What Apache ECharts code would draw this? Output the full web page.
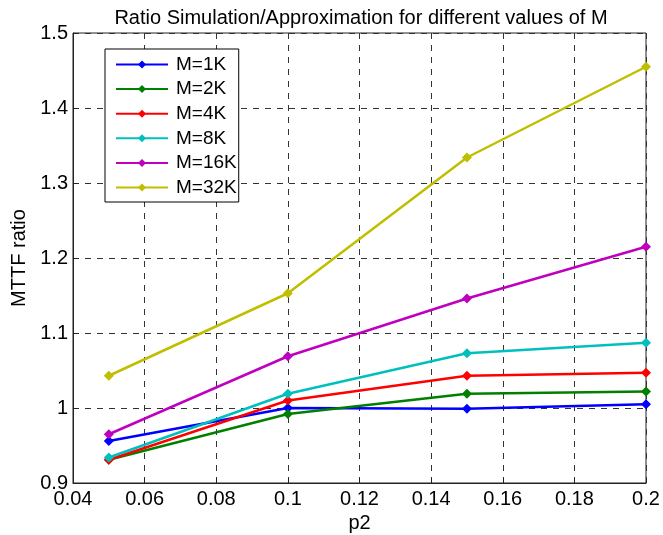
<!DOCTYPE html>
<html>
<head>
<meta charset="utf-8">
<script src="https://cdn.jsdelivr.net/npm/echarts@6/dist/echarts.min.js"></script>
<style>
  html, body { margin: 0; padding: 0; background: #fff; }
  #main { width: 663px; height: 535px; }
</style>
</head>
<body>
<div id="main"></div>
<script>
// p2 values
var p2 = [0.05, 0.1, 0.15, 0.2]
// MTTF ratio for each M
var m1k = [0.956, 1.0, 0.999, 1.005]
var m2k = [0.931, 0.992, 1.019, 1.022]
var m4k = [0.931, 1.010, 1.043, 1.047]
var m8k = [0.934, 1.019, 1.073, 1.087]
var m16k = [0.965, 1.069, 1.146, 1.215]
var m32k = [1.043, 1.153, 1.334, 1.455]
var names = ['M=1K', 'M=2K', 'M=4K', 'M=8K', 'M=16K', 'M=32K']
var colors = ['#0000ff', '#008000', '#ff0000', '#00bfbf', '#bf00bf', '#bfbf00']

var chart = echarts.init(document.getElementById('main'))
var font = 'Liberation Sans, Arial, sans-serif'

function makeSeries(name, vals, color) {
  return {
    name: name,
    type: 'line',
    data: p2.map(function (x, i) { return [x, vals[i]] }),
    symbol: 'diamond',
    symbolSize: 10,
    lineStyle: { color: color, width: 2.5 },
    itemStyle: { color: color },
    animation: false
  }
}

function fmt(v) {
  return String(parseFloat(v.toFixed(2)))
}

var option = {
  backgroundColor: '#fff',
  title: {
    text: 'Ratio Simulation/Approximation for different values of M',
    left: 356,
    textAlign: 'center',
    top: 3,
    textStyle: { fontFamily: font, fontSize: 20, fontWeight: 'normal', color: '#000' }
  },
  legend: {
    data: names,
    orient: 'vertical',
    left: 105,
    top: 49,
    itemWidth: 52,
    itemHeight: 10,
    itemGap: 5.6,
    padding: [6, 2, 5, 10],
    borderColor: '#000',
    borderWidth: 1,
    backgroundColor: '#fff',
    textStyle: { fontFamily: font, fontSize: 19, color: '#000', padding: [0, 0, 0, 3] }
  },
  grid: {
    left: 73, right: 17, top: 33, bottom: 52,
    outerBoundsMode: 'none',
    containLabel: false,
    show: true, borderColor: '#222', borderWidth: 1
  },
  xAxis: {
    type: 'value',
    min: 0.04, max: 0.2, interval: 0.02,
    name: 'p2',
    nameLocation: 'middle',
    nameGap: 26,
    nameTextStyle: { fontFamily: font, fontSize: 20, color: '#000' },
    axisLine: { show: true, lineStyle: { color: '#222' } },
    axisTick: { inside: true, length: 5, lineStyle: { color: '#222' } },
    axisLabel: { fontFamily: font, fontSize: 20, color: '#000', margin: 6, formatter: fmt },
    splitLine: { show: true, lineStyle: { color: '#333', type: [6, 6], width: 1 } }
  },
  yAxis: {
    type: 'value',
    min: 0.9, max: 1.5, interval: 0.1,
    name: 'MTTF ratio',
    nameLocation: 'middle',
    nameGap: 43,
    nameTextStyle: { fontFamily: font, fontSize: 20, color: '#000' },
    axisLine: { show: true, lineStyle: { color: '#222' } },
    axisTick: { inside: true, length: 5, lineStyle: { color: '#222' } },
    axisLabel: { fontFamily: font, fontSize: 20, color: '#000', margin: 5, formatter: fmt },
    splitLine: { show: true, lineStyle: { color: '#333', type: [6, 6], width: 1 } }
  },
  series: [
    makeSeries(names[0], m1k, colors[0]),
    makeSeries(names[1], m2k, colors[1]),
    makeSeries(names[2], m4k, colors[2]),
    makeSeries(names[3], m8k, colors[3]),
    makeSeries(names[4], m16k, colors[4]),
    makeSeries(names[5], m32k, colors[5])
  ]
}
chart.setOption(option)
</script>
</body>
</html>
